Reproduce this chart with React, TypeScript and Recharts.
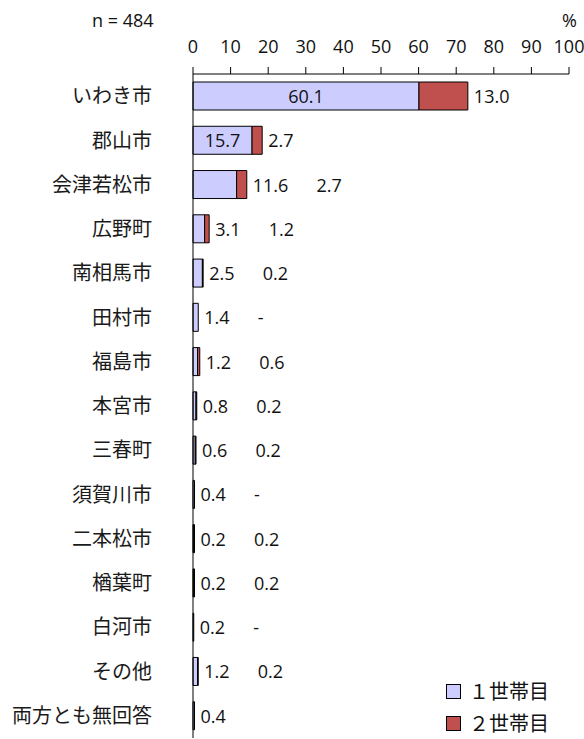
import React from "react";
import { BarChart, Bar, XAxis, YAxis, LabelList } from "recharts";

const categories = [
  "いわき市", "郡山市", "会津若松市", "広野町", "南相馬市", "田村市", "福島市",
  "本宮市", "三春町", "須賀川市", "二本松市", "楢葉町", "白河市", "その他", "両方とも無回答",
];
const firstHousehold = [60.1, 15.7, 11.6, 3.1, 2.5, 1.4, 1.2, 0.8, 0.6, 0.4, 0.2, 0.2, 0.2, 1.2, 0.4];
// null = no second label at all, 0 = shown as "-"
const secondHousehold: (number | null)[] = [13.0, 2.7, 2.7, 1.2, 0.2, 0, 0.6, 0.2, 0.2, 0, 0.2, 0.2, 0, 0.2, null];
const xTicks = [0, 10, 20, 30, 40, 50, 60, 70, 80, 90, 100];
const seriesNames = ["１世帯目", "２世帯目"];

const data = categories.map((name, i) => ({
  name,
  first: firstHousehold[i],
  second: secondHousehold[i] ?? 0,
}));

const BLUE = "#CCCCFF";
const RED = "#C0504D";
const FONT = "'Open Sans', 'Noto Sans CJK JP', sans-serif";
const JP_FONT = "'Noto Sans CJK JP', sans-serif";
const INSIDE_MIN = 15;

const fmt = (v: number | null) => (v == null ? "" : v === 0 ? "-" : v.toFixed(1));
// rough text width of a number label (digits ~10.3px, dot ~4.9px at 18px)
const textW = (s: string) => s.split("").reduce((w, c) => w + (c === "." ? 4.9 : 10.3), 0);

const geom = (props: any) => {
  const vb = props.viewBox && props.viewBox.width !== undefined ? props.viewBox : props;
  return { x: Number(vb.x), y: Number(vb.y), width: Number(vb.width), height: Number(vb.height) };
};

const Num = ({ x, y, anchor = "start", children }: any) => (
  <text x={x} y={y} textAnchor={anchor} dominantBaseline="central"
    fontSize={18} fontFamily={FONT} fill="#111">{children}</text>
);

// both value labels are drawn from the first segment (always non-zero)
const RowLabels = (props: any) => {
  const i = props.index;
  const { x, y, width, height } = geom(props);
  const v1 = firstHousehold[i];
  const v2 = secondHousehold[i];
  const perUnit = v1 > 0 ? width / v1 : 0;
  const end = x + (v1 + (v2 ?? 0)) * perUnit;
  const cy = y + height / 2;
  if (v1 >= INSIDE_MIN) {
    return (
      <g>
        <Num x={x + width / 2} y={cy} anchor="middle">{fmt(v1)}</Num>
        {v2 != null && <Num x={end + 6} y={cy}>{fmt(v2)}</Num>}
      </g>
    );
  }
  const lx = end + 6;
  return (
    <g>
      <Num x={lx} y={cy}>{fmt(v1)}</Num>
      {v2 != null && <Num x={lx + textW(fmt(v1)) + 28} y={cy}>{fmt(v2)}</Num>}
    </g>
  );
};

const LegendBox = () => (
  <div style={{
    position: "absolute", left: 446, top: 675,
    fontFamily: JP_FONT, fontSize: 20, color: "#111", lineHeight: "32px",
  }}>
    {seriesNames.map((n, i) => (
      <div key={n} style={{ display: "flex", alignItems: "center", height: 32 }}>
        <span style={{
          display: "inline-block", width: 13, height: 13, marginRight: 8,
          background: i === 0 ? BLUE : RED, border: "1px solid #000",
        }} />
        {n}
      </div>
    ))}
  </div>
);

export default function App() {
  return (
    <div style={{ position: "absolute", left: 0, top: 0, width: 584, height: 739, background: "#fff", overflow: "hidden" }}>
      <div style={{ position: "absolute", left: 92, top: 8, fontFamily: FONT, fontSize: 18, color: "#111" }}>
        n = 484
      </div>
      <div style={{ position: "absolute", left: 562, top: 8, fontFamily: FONT, fontSize: 18, color: "#111" }}>
        %
      </div>
      <BarChart
        width={584}
        height={739}
        data={data}
        layout="vertical"
        margin={{ top: 44, right: 15, bottom: 1, left: 0 }}
        barSize={28}
      >
        <XAxis
          type="number"
          orientation="top"
          domain={[0, 100]}
          ticks={xTicks}
          height={30}
          tickSize={7}
          tickMargin={14}
          interval={0}
          axisLine={{ stroke: "#000" }}
          tickLine={{ stroke: "#000" }}
          tick={{ fontSize: 18, fontFamily: FONT, fill: "#111" }}
        />
        <YAxis
          type="category"
          dataKey="name"
          width={193}
          tickSize={0}
          tickMargin={41}
          interval={0}
          axisLine={{ stroke: "#000" }}
          tickLine={false}
          tick={{ fontSize: 20, fontFamily: JP_FONT, fill: "#1a1a1a" }}
        />
        <Bar dataKey="first" stackId="a" fill={BLUE} stroke="#000" strokeWidth={1} isAnimationActive={false}>
          <LabelList dataKey="first" content={<RowLabels />} />
        </Bar>
        <Bar dataKey="second" stackId="a" fill={RED} stroke="#000" strokeWidth={1} isAnimationActive={false} />
      </BarChart>
      <LegendBox />
    </div>
  );
}
